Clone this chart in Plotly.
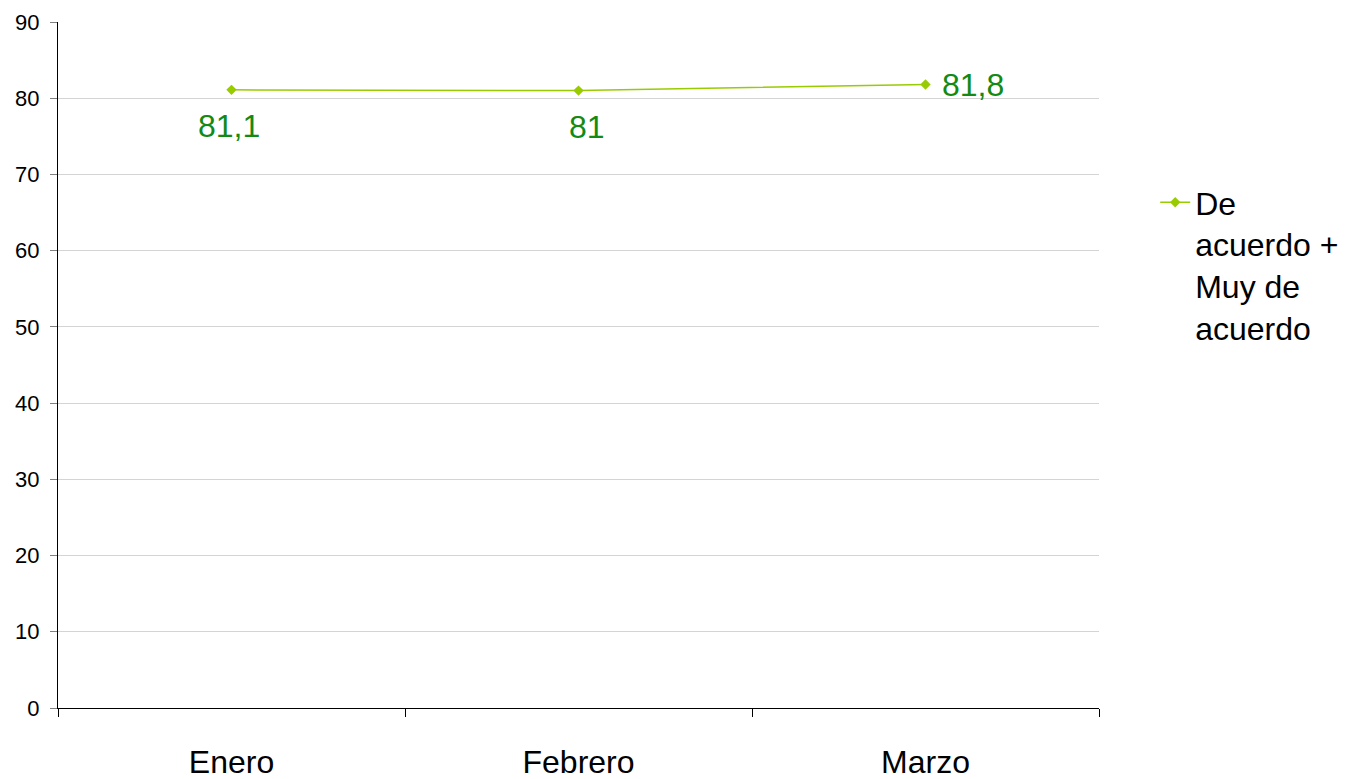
import plotly.graph_objects as go

months = ["Enero", "Febrero", "Marzo"]
agree = [81.1, 81.0, 81.8]
agree_labels = ["81,1", "81", "81,8"]
label_anchor = ["center", "center", "left"]
label_dx = [-3, 8, 14]
label_dy = [-36, -36, 0]

FONT = "Liberation Sans"

fig = go.Figure()
fig.add_trace(
    go.Scatter(
        x=months,
        y=agree,
        name="De<br>acuerdo +<br>Muy de<br>acuerdo",
        mode="lines+markers",
        line=dict(color="#99cc00", width=1.5),
        marker=dict(symbol="diamond", size=8, color="#99cc00"),
    )
)

# data labels, placed like the original (below for first two, right for last)
for m, v, t, a, dx, dy in zip(months, agree, agree_labels, label_anchor, label_dx, label_dy):
    fig.add_annotation(
        x=m, y=v, text=t, showarrow=False,
        xanchor=a, yanchor="middle", xshift=dx, yshift=dy,
        font=dict(size=32, color="#138a13", family=FONT),
    )

# page body adds an 8px offset, margins compensate for it
fig.update_layout(
    width=1348,
    height=779,
    margin=dict(l=50, r=247, t=14, b=79),
    plot_bgcolor="white",
    paper_bgcolor="white",
    font=dict(family=FONT, color="black"),
    showlegend=True,
    legend=dict(
        x=1.054,
        y=0.777,
        xanchor="left",
        yanchor="top",
        valign="top",
        font=dict(size=32, color="black"),
        itemwidth=30,
    ),
    xaxis=dict(
        type="category",
        tickson="boundaries",
        ticks="outside",
        ticklen=8,
        tickcolor="black",
        showline=True,
        linecolor="black",
        showgrid=False,
        tickfont=dict(size=32),
        ticklabelstandoff=26,
        range=[-0.5, 2.5],
        automargin=False,
    ),
    yaxis=dict(
        range=[0, 90],
        dtick=10,
        ticks="outside",
        ticklen=7,
        tickcolor="#808080",
        showline=True,
        linecolor="black",
        gridcolor="#d4d4d4",
        tickfont=dict(size=22),
        ticklabelstandoff=6,
        zeroline=False,
        automargin=False,
    ),
)

fig.write_html("out.html")
